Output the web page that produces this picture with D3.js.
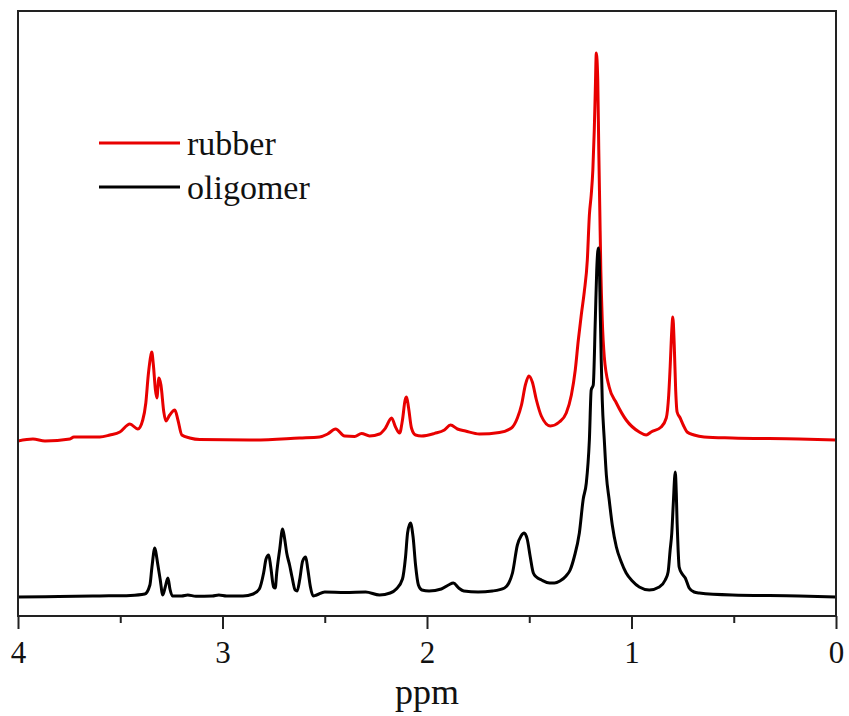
<!DOCTYPE html>
<html>
<head>
<meta charset="utf-8">
<script src="https://cdn.jsdelivr.net/npm/d3@7"></script>
<style>
  html, body { margin: 0; padding: 0; background: #fff; }
  svg { display: block; font-family: 'Liberation Serif', 'Times New Roman', serif; }
</style>
</head>
<body>
<svg id="chart" width="849" height="716"></svg>
<script>
// spectra: [ppm, intensity a.u.]
const oligomer = [
  [4.00, 0.0], [3.80, 0.02], [3.60, 0.05], [3.45, 0.08], [3.38, 0.15],
  [3.355, 0.6], [3.345, 1.5], [3.331, 2.45], [3.322, 2.0], [3.316, 1.6],
  [3.305, 0.9], [3.292, 0.1], [3.28, 0.5], [3.267, 0.95], [3.257, 0.4],
  [3.245, 0.05], [3.20, 0.05], [3.17, 0.1], [3.13, 0.04], [3.05, 0.05],
  [3.018, 0.1], [2.98, 0.05], [2.90, 0.05], [2.85, 0.15], [2.82, 0.4],
  [2.799, 1.2], [2.787, 1.9], [2.774, 2.1], [2.764, 1.5], [2.750, 0.5],
  [2.742, 0.45], [2.735, 1.2], [2.72, 2.4], [2.706, 3.4], [2.696, 2.9],
  [2.686, 2.2], [2.672, 1.6], [2.66, 1.0], [2.645, 0.35], [2.635, 0.3],
  [2.622, 0.9], [2.608, 1.8], [2.593, 2.0], [2.583, 1.4], [2.57, 0.5],
  [2.557, 0.05], [2.54, 0.1], [2.50, 0.25], [2.40, 0.22], [2.30, 0.25],
  [2.232, 0.1], [2.18, 0.2], [2.15, 0.4], [2.12, 0.9], [2.105, 2.0],
  [2.095, 3.2], [2.081, 3.7], [2.068, 3.0], [2.056, 1.6], [2.042, 0.6],
  [2.025, 0.35], [1.99, 0.3], [1.93, 0.4], [1.895, 0.6], [1.871, 0.7],
  [1.845, 0.45], [1.82, 0.3], [1.75, 0.25], [1.68, 0.3], [1.621, 0.45],
  [1.60, 0.7], [1.582, 1.2], [1.558, 2.6], [1.54, 3.05], [1.525, 3.2],
  [1.51, 2.9], [1.495, 2.0], [1.48, 1.2], [1.465, 1.0], [1.44, 0.85],
  [1.40, 0.7], [1.377, 0.7], [1.35, 0.8], [1.32, 1.05], [1.30, 1.35],
  [1.28, 2.0], [1.255, 3.2], [1.236, 4.9], [1.221, 5.7], [1.206, 7.85],
  [1.197, 10.35], [1.187, 10.6], [1.177, 13.85], [1.170, 16.35], [1.162, 17.45],
  [1.157, 16.6], [1.153, 14.35], [1.148, 11.85], [1.143, 9.85], [1.133, 7.85],
  [1.123, 6.1], [1.109, 4.85], [1.094, 3.6], [1.074, 2.5], [1.050, 1.75],
  [1.026, 1.2], [0.996, 0.8], [0.962, 0.5], [0.913, 0.35], [0.864, 0.5],
  [0.835, 0.85], [0.821, 1.25], [0.811, 2.35], [0.803, 3.2], [0.796, 4.6],
  [0.786, 6.25], [0.781, 5.2], [0.777, 3.7], [0.772, 2.35], [0.767, 1.5],
  [0.752, 1.15], [0.737, 0.95], [0.718, 0.45], [0.694, 0.25], [0.669, 0.2],
  [0.508, 0.1], [0.181, 0.05], [0.00, 0.0]
]

const rubber = [
  [4.00, -0.05], [3.927, 0.05], [3.868, -0.05], [3.746, 0.05], [3.727, 0.15],
  [3.60, 0.15], [3.551, 0.25], [3.502, 0.4], [3.453, 0.8], [3.414, 0.55],
  [3.390, 1.0], [3.375, 1.85], [3.363, 3.25], [3.350, 4.25], [3.346, 4.4],
  [3.338, 3.75], [3.328, 2.5], [3.321, 2.1], [3.311, 3.1], [3.301, 2.75],
  [3.287, 1.4], [3.277, 0.95], [3.258, 1.25], [3.233, 1.5], [3.218, 1.0],
  [3.199, 0.25], [3.160, 0.1], [3.111, 0.02], [2.867, 0.0], [2.623, 0.1],
  [2.525, 0.15], [2.486, 0.3], [2.447, 0.55], [2.403, 0.2], [2.354, 0.18],
  [2.320, 0.33], [2.281, 0.2], [2.232, 0.3], [2.203, 0.6], [2.173, 1.1],
  [2.154, 0.65], [2.134, 0.35], [2.120, 1.0], [2.107, 2.0], [2.100, 2.15],
  [2.090, 1.6], [2.076, 0.6], [2.056, 0.25], [2.027, 0.2], [1.963, 0.33],
  [1.915, 0.5], [1.885, 0.75], [1.851, 0.55], [1.812, 0.45], [1.744, 0.3],
  [1.646, 0.38], [1.587, 0.6], [1.558, 1.1], [1.538, 1.75], [1.519, 2.75],
  [1.502, 3.2], [1.485, 2.9], [1.465, 2.0], [1.441, 1.2], [1.397, 0.7],
  [1.353, 0.9], [1.319, 1.35], [1.294, 2.25], [1.275, 3.5], [1.260, 5.0],
  [1.245, 6.3], [1.231, 7.4], [1.216, 9.0], [1.206, 11.25], [1.197, 12.25],
  [1.189, 13.5], [1.182, 15.5], [1.177, 17.5], [1.172, 19.35], [1.165, 18.0],
  [1.160, 14.5], [1.155, 11.5], [1.150, 8.5], [1.143, 6.0], [1.133, 4.15],
  [1.109, 2.65], [1.074, 1.85], [1.026, 1.0], [0.962, 0.4], [0.928, 0.25],
  [0.904, 0.4], [0.855, 0.65], [0.830, 1.1], [0.818, 2.25], [0.811, 3.65],
  [0.803, 5.5], [0.798, 6.15], [0.791, 4.75], [0.784, 2.5], [0.777, 1.4],
  [0.762, 1.1], [0.747, 0.75], [0.728, 0.4], [0.694, 0.25], [0.645, 0.15],
  [0.508, 0.1], [0.181, 0.05], [0.00, 0.0]
]

// vertical stacking of the rubber trace above the oligomer one
const rubberOffset = 7.85

const majorTicks = [4, 3, 2, 1, 0]
const minorTicks = [3.5, 2.5, 1.5, 0.5]

const series = [
  { name: 'rubber', data: rubber, offset: rubberOffset, color: '#e80000' },
  { name: 'oligomer', data: oligomer, offset: 0, color: '#000000' }
]

const svg = d3.select('#chart')
const margin = { top: 11, right: 13, bottom: 100, left: 18 }
const W = 849, H = 716
const innerW = W - margin.left - margin.right
const innerH = H - margin.top - margin.bottom

const x = d3.scaleLinear().domain([4, 0]).range([0, innerW])
const y = d3.scaleLinear().domain([-0.95, 29.3]).range([innerH, 0])

const g = svg.append('g')
  .attr('transform', `translate(${margin.left},${margin.top})`)

g.append('clipPath').attr('id', 'plot-clip')
  .append('rect').attr('width', innerW).attr('height', innerH)

const line = d3.line()
  .x(d => x(d[0]))
  .y(d => y(d[1]))
  .curve(d3.curveMonotoneX)

g.append('g').attr('clip-path', 'url(#plot-clip)')
  .selectAll('path')
  .data(series)
  .enter().append('path')
  .attr('d', s => line(s.data.map(d => [d[0], d[1] + s.offset])))
  .attr('fill', 'none')
  .attr('stroke', s => s.color)
  .attr('stroke-width', 3)
  .attr('stroke-linejoin', 'round')

// frame
g.append('rect')
  .attr('width', innerW).attr('height', innerH)
  .attr('fill', 'none')
  .attr('stroke', '#222')
  .attr('stroke-width', 2)

// x axis
const xAxis = g.append('g')
  .attr('transform', `translate(0,${innerH})`)
  .call(d3.axisBottom(x).tickValues(majorTicks).tickSize(13).tickPadding(12).tickFormat(d3.format('d')))
xAxis.select('.domain').remove()
xAxis.selectAll('.tick line').attr('stroke', '#222').attr('stroke-width', 2)
xAxis.selectAll('.tick text')
  .attr('fill', '#111')
  .style('font-size', '31px')
  .style('font-family', "'Liberation Serif', serif")

const minor = g.append('g')
  .attr('transform', `translate(0,${innerH})`)
  .call(d3.axisBottom(x).tickValues(minorTicks).tickSize(7).tickFormat(''))
minor.select('.domain').remove()
minor.selectAll('.tick line').attr('stroke', '#222').attr('stroke-width', 2)

g.append('text')
  .attr('x', innerW / 2)
  .attr('y', innerH + 88)
  .attr('text-anchor', 'middle')
  .style('font-size', '36px')
  .attr('fill', '#111')
  .text('ppm')

// legend
const legend = g.append('g').attr('transform', 'translate(81,132)')
const item = legend.selectAll('g')
  .data(series)
  .enter().append('g')
  .attr('transform', (d, i) => `translate(0,${i * 44})`)
item.append('line')
  .attr('x1', 0).attr('x2', 81)
  .attr('stroke', d => d.color)
  .attr('stroke-width', 2.8)
item.append('text')
  .attr('x', 88)
  .attr('y', 12)
  .style('font-size', '34px')
  .attr('fill', '#111')
  .text(d => d.name)
</script>
</body>
</html>
